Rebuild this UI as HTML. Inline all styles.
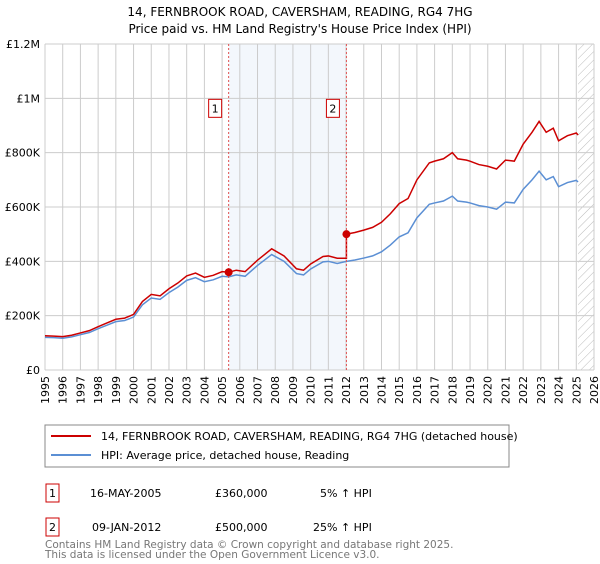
<!DOCTYPE html>
<html><head><meta charset="utf-8"><style>
body{margin:0;background:#fff;font-family:"DejaVu Sans","Liberation Sans",sans-serif;}
svg text{font-family:"DejaVu Sans","Liberation Sans",sans-serif;}
</style></head><body>
<svg id="c" width="600" height="560" xmlns="http://www.w3.org/2000/svg">
<defs><pattern id="hatch" width="6" height="6" patternUnits="userSpaceOnUse" patternTransform="rotate(45)"><line x1="0" y1="0" x2="0" y2="6" stroke="#bbb" stroke-width="1"/></pattern></defs>
<text x="300" y="16" text-anchor="middle" font-size="12">14, FERNBROOK ROAD, CAVERSHAM, READING, RG4 7HG</text>
<text x="300" y="33" text-anchor="middle" font-size="12">Price paid vs. HM Land Registry's House Price Index (HPI)</text>
<g id="plot"></g>
<rect x="45" y="425" width="464" height="42" fill="#fff" stroke="#888"/>
<line x1="51" y1="436" x2="91" y2="436" stroke="#cc0000" stroke-width="2"/>
<text x="101" y="440" font-size="11">14, FERNBROOK ROAD, CAVERSHAM, READING, RG4 7HG (detached house)</text>
<line x1="51" y1="455" x2="91" y2="455" stroke="#5b8fd4" stroke-width="2"/>
<text x="101" y="459" font-size="11">HPI: Average price, detached house, Reading</text>
<g font-size="11">
<rect x="46" y="484" width="13" height="18" fill="#fff" stroke="#cc0000"/><text x="52.5" y="497" text-anchor="middle">1</text>
<text x="90" y="497">16-MAY-2005</text><text x="215" y="497">£360,000</text><text x="320" y="497">5% ↑ HPI</text>
<rect x="46" y="518" width="13" height="18" fill="#fff" stroke="#cc0000"/><text x="52.5" y="531" text-anchor="middle">2</text>
<text x="92" y="531">09-JAN-2012</text><text x="215" y="531">£500,000</text><text x="313" y="531">25% ↑ HPI</text>
</g>
<text x="45" y="548" font-size="10.5" fill="#777">Contains HM Land Registry data © Crown copyright and database right 2025.</text>
<text x="45" y="558" font-size="10.5" fill="#777">This data is licensed under the Open Government Licence v3.0.</text>
</svg>
<script>
const hpiYears=[1995,1995.5,1996,1996.5,1997,1997.5,1998,1998.5,1999,1999.5,2000,2000.5,2001,2001.5,2002,2002.5,2003,2003.5,2004,2004.5,2005,2005.37,2005.8,2006.3,2007,2007.8,2008.5,2009.2,2009.6,2010,2010.7,2011,2011.5,2012.02,2012.5,2013,2013.5,2014,2014.5,2015,2015.5,2016,2016.7,2017,2017.5,2018,2018.3,2018.8,2019,2019.5,2020,2020.5,2021,2021.5,2022,2022.5,2022.9,2023.3,2023.7,2024,2024.5,2025,2025.1];
const hpiValues=[120000,119000,117000,122000,130000,138000,152000,165000,178000,182000,195000,240000,265000,260000,285000,305000,330000,340000,325000,332000,345000,343000,350000,345000,385000,425000,400000,355000,350000,372000,398000,400000,392000,400000,405000,412000,420000,435000,460000,490000,505000,560000,610000,615000,622000,640000,622000,618000,615000,605000,600000,592000,618000,615000,665000,700000,732000,700000,712000,675000,690000,698000,692000];
const saleYears=[2005.37,2012.02];
const salePrices=[360000,500000];
const yTicks=[0,200000,400000,600000,800000,1000000,1200000];
const yTickLabels=["£0","£200K","£400K","£600K","£800K","£1M","£1.2M"];
const xStart=1995,xEnd=2026;
const X=v=>45+(v-xStart)*(549/(xEnd-xStart));
const Y=v=>370-v*(326/1200000);
const g=document.getElementById('plot');
const NS='http://www.w3.org/2000/svg';
function mk(t,a,p){const e=document.createElementNS(NS,t);for(const k in a)e.setAttribute(k,a[k]);(p||g).appendChild(e);return e;}
let e=mk('rect',{x:X(saleYears[0]),y:Y(1200000),width:X(saleYears[1])-X(saleYears[0]),height:Y(0)-Y(1200000),fill:'#eef3fb',opacity:0.7});


e=mk('rect',{x:X(2025.1),y:Y(1200000),width:X(2026)-X(2025.1),height:Y(0)-Y(1200000),fill:'url(#hatch)'});


for(let yr=xStart;yr<=xEnd;yr++){
 e=mk('line',{x1:X(yr),x2:X(yr),y1:Y(0),y2:Y(1200000),stroke:'#ccc','stroke-width':1});
 
 
 e=mk('text',{x:0,y:0,transform:`translate(${X(yr)+4},${Y(0)+6}) rotate(-90)`,'text-anchor':'end','font-size':11});
 e.textContent=yr;
 
 
}
yTicks.forEach((v,i)=>{
 e=mk('line',{x1:X(xStart),x2:X(xEnd),y1:Y(v),y2:Y(v),stroke:'#ccc','stroke-width':1});
 
 
 e=mk('text',{x:X(xStart)-5,y:Y(v)+4,'text-anchor':'end','font-size':11});
 e.textContent=yTickLabels[i];
 
 
});
function interp(t){for(let i=1;i<hpiYears.length;i++){if(t<=hpiYears[i]){const f=(t-hpiYears[i-1])/(hpiYears[i]-hpiYears[i-1]);return hpiValues[i-1]+f*(hpiValues[i]-hpiValues[i-1]);}}return hpiValues[hpiValues.length-1];}
const redVals=hpiYears.map((t,i)=>{
 if(t<saleYears[1])return hpiValues[i]*salePrices[0]/interp(saleYears[0]);
 return hpiValues[i]*salePrices[1]/interp(saleYears[1]);
});
e=mk('polyline',{points:hpiYears.map((t,i)=>X(t)+','+Y(hpiValues[i])).join(' '),fill:'none',stroke:'#5b8fd4','stroke-width':1.5});


let pts=[];hpiYears.forEach((t,i)=>{if(t>=saleYears[1]&&pts.length&&hpiYears[i-1]<saleYears[1]){pts.push(X(saleYears[1])+','+Y(redVals[i-1]));}pts.push(X(t)+','+Y(redVals[i]));});
e=mk('polyline',{points:pts.join(' '),fill:'none',stroke:'#cc0000','stroke-width':1.5});


saleYears.forEach((t,i)=>{
 e=mk('line',{x1:X(t),x2:X(t),y1:Y(0),y2:Y(1200000),stroke:'#e05050','stroke-dasharray':'2,2','stroke-width':1});
 
 
 e=mk('rect',{x:X(t)-20,y:Y(1000000)+1,width:13,height:18,fill:'#fff',stroke:'#cc0000'});
 
 
 e=mk('text',{x:X(t)-13.5,y:Y(1000000)+14,'text-anchor':'middle','font-size':11});
 e.textContent=String(i+1);
 
 
 e=mk('circle',{cx:X(t),cy:Y(salePrices[i]),r:4,fill:'#cc0000'});
 
 
});
</script>
</body></html>
